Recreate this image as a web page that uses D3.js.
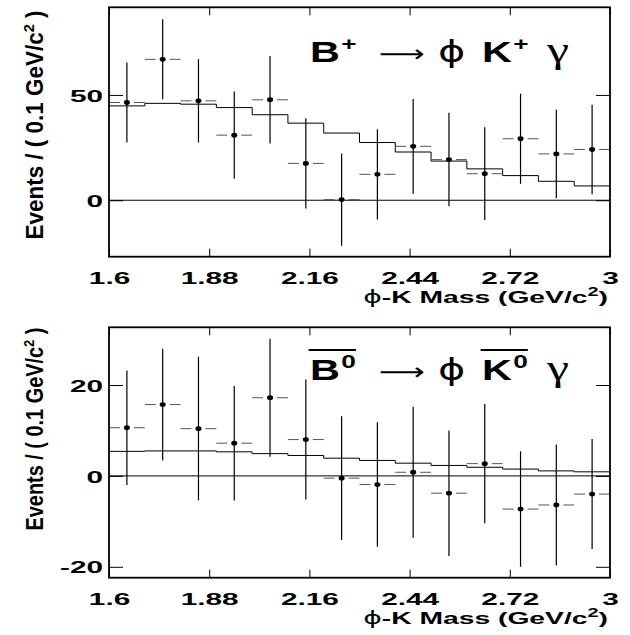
<!DOCTYPE html>
<html>
<head>
<meta charset="utf-8">
<script src="https://cdn.jsdelivr.net/npm/d3@7"></script>
<style>
  body { margin: 0; background: #fff; }
  svg { display: block; }
  text { font-family: "Liberation Sans", Arial, sans-serif; }
</style>
</head>
<body>
<svg id="chart" width="630" height="635"></svg>
<script>
// bin centres of the phi-K mass histogram (GeV/c^2)
const binCenters = [1.65, 1.75, 1.85, 1.95, 2.05, 2.15, 2.25, 2.35, 2.45, 2.55, 2.65, 2.75, 2.85, 2.95];
const binWidth = 0.1;
const xTicks = [1.6, 1.88, 2.16, 2.44, 2.72, 3];

// B+ -> phi K+ gamma
const chargedCounts = [46.4, 66.9, 47.2, 30.9, 47.7, 17.5, 0.3, 12.3, 25.6, 19.3, 12.6, 29.2, 22.0, 24.1];
const chargedErrors = [19.0, 19.0, 19.8, 20.7, 20.8, 21.4, 21.9, 21.4, 22.5, 22.2, 22.0, 21.4, 21.0, 21.2];
const chargedFit = [44.8, 46.0, 45.6, 44.0, 40.6, 36.6, 31.9, 27.4, 22.9, 18.6, 14.9, 11.7, 9.0, 6.8];
const chargedYTicks = [0, 50];

// B0bar -> phi K0bar gamma
const neutralCounts = [10.6, 15.7, 10.4, 7.2, 17.2, 8.0, -0.5, -1.9, 0.8, -3.8, 2.7, -7.3, -6.4, -4.0];
const neutralErrors = [12.6, 12.3, 15.8, 12.6, 13.0, 13.2, 13.6, 13.7, 14.4, 13.8, 13.1, 12.7, 13.3, 12.1];
const neutralFit = [5.4, 5.5, 5.5, 5.3, 4.9, 4.5, 3.9, 3.4, 2.8, 2.3, 1.9, 1.5, 1.1, 0.9];
const neutralYTicks = [-20, 0, 20];

const svg = d3.select('#chart');
const left = 109, right = 610;
const stretch = 1.75; // the original lettering is wide

const x = d3.scaleLinear().domain([1.6, 3]).range([left, right]);

function widen(sel, f) {
    sel.each(function () {
        const w = this.getComputedTextLength();
        d3.select(this).attr('textLength', w * f).attr('lengthAdjust', 'spacingAndGlyphs');
    });
}

function drawPanel(opt) {
    const y = d3.scaleLinear().domain(opt.yDomain).range([opt.bottom, opt.top]);
    const g = svg.append('g');
    const rows = binCenters.map((c, i) => ({ c, v: opt.counts[i], e: opt.errors[i], f: opt.fit[i] }));

    // zero line
    g.append('line')
        .attr('x1', left).attr('x2', right)
        .attr('y1', y(0)).attr('y2', y(0))
        .attr('stroke', '#000').attr('stroke-width', 1);

    // fitted background, drawn as steps
    const step = d3.line()
        .x(d => x(d[0])).y(d => y(d[1]))
        .curve(d3.curveStepAfter);
    const stepPts = rows.map(d => [d.c - binWidth / 2, d.f]);
    stepPts.push([3, rows[rows.length - 1].f]);
    g.append('path')
        .attr('d', step(stepPts))
        .attr('fill', 'none').attr('stroke', '#000').attr('stroke-width', 1);

    // data points: horizontal bars with a gap round the dot, vertical errors
    const pt = g.selectAll('.pt').data(rows).enter().append('g');
    const gap = 7;
    pt.append('line')
        .attr('x1', d => x(d.c - binWidth / 2)).attr('x2', d => x(d.c) - gap)
        .attr('y1', d => y(d.v)).attr('y2', d => y(d.v))
        .attr('stroke', '#555').attr('stroke-width', 1);
    pt.append('line')
        .attr('x1', d => x(d.c) + gap).attr('x2', d => x(d.c + binWidth / 2))
        .attr('y1', d => y(d.v)).attr('y2', d => y(d.v))
        .attr('stroke', '#555').attr('stroke-width', 1);
    pt.append('line')
        .attr('x1', d => x(d.c)).attr('x2', d => x(d.c))
        .attr('y1', d => y(d.v - d.e)).attr('y2', d => y(d.v + d.e))
        .attr('stroke', '#000').attr('stroke-width', 1.2);
    pt.append('ellipse')
        .attr('cx', d => x(d.c)).attr('cy', d => y(d.v))
        .attr('rx', 3).attr('ry', 2.4)
        .attr('fill', '#000');

    // axes, ticks pointing inwards
    g.append('g')
        .attr('transform', `translate(0,${opt.bottom})`)
        .call(d3.axisBottom(x).tickValues(xTicks).tickSize(-8).tickPadding(15).tickFormat(d => String(d)));
    g.append('g')
        .attr('transform', `translate(0,${opt.top})`)
        .call(d3.axisTop(x).tickValues(xTicks).tickSize(-8).tickFormat(''));
    const yl = g.append('g')
        .attr('transform', `translate(${left},0)`)
        .call(d3.axisLeft(y).tickValues(opt.yTicks).tickSize(-14).tickPadding(6).tickFormat(d => String(d)));
    g.append('g')
        .attr('transform', `translate(${right},0)`)
        .call(d3.axisRight(y).tickValues(opt.yTicks).tickSize(-14).tickFormat(''));
    g.selectAll('.domain').remove();
    g.selectAll('.tick line').attr('stroke', '#000').attr('stroke-width', 1);
    const tickText = g.selectAll('.tick text')
        .attr('fill', '#000')
        .style('font-size', '17px').style('font-weight', 'bold')
        .style('font-family', '"Liberation Sans", Arial, sans-serif');
    yl.selectAll('.tick text').attr('dy', '0.36em');
    widen(tickText, stretch);

    // frame
    g.append('rect')
        .attr('x', left).attr('y', opt.top)
        .attr('width', right - left).attr('height', opt.bottom - opt.top)
        .attr('fill', 'none').attr('stroke', '#000').attr('stroke-width', 1.8);

    // y title
    const yt = g.append('text')
        .attr('transform', `translate(${opt.yTitleX},${opt.yTitleY}) rotate(-90)`)
        .attr('text-anchor', 'middle')
        .attr('textLength', opt.yTitleLen).attr('lengthAdjust', 'spacingAndGlyphs')
        .style('font-family', '"Liberation Sans Narrow", "Liberation Sans", sans-serif')
        .style('font-weight', 'bold')
        .style('font-size', '23px');
    yt.append('tspan').text('Events / ( 0.1 GeV/c');
    yt.append('tspan').attr('dy', -9).style('font-size', '15px').text('2');
    yt.append('tspan').attr('dy', 9).text(' )');

    // x title, stretched to the original width
    const xg = g.append('g');
    const xt = xg.append('text')
        .attr('x', 0).attr('y', 0)
        .attr('text-anchor', 'end')
        .style('font-size', '17px').style('font-weight', 'bold');
    xt.append('tspan').style('font-weight', 'normal').style('font-family', '"DejaVu Sans", sans-serif').text('\u03d5');
    xt.append('tspan').text('-K Mass (GeV/c');
    xt.append('tspan').attr('dy', -7).style('font-size', '12px').text('2');
    xt.append('tspan').attr('dy', 7).text(')');
    const xw = xt.node().getBBox().width;
    xg.attr('transform', `translate(608,${opt.bottom + 46}) scale(${245 / xw},1)`);

    return y;
}

drawPanel({
    top: 7.3, bottom: 256.7, yDomain: [-26.8, 91.6],
    counts: chargedCounts, errors: chargedErrors, fit: chargedFit, yTicks: chargedYTicks,
    yTitleX: 43, yTitleY: 125, yTitleLen: 229
});
drawPanel({
    top: 327.3, bottom: 577.7, yDomain: [-22.4, 32.7],
    counts: neutralCounts, errors: neutralErrors, fit: neutralFit, yTicks: neutralYTicks,
    yTitleX: 43, yTitleY: 429, yTitleLen: 203
});

// decay titles, laid out in unscaled space then widened
const titleScale = 1.38;
function decayTitle(yBase, charge, bars) {
    const g = svg.append('g').attr('transform', `translate(310,${yBase}) scale(${titleScale},1)`);
    const t = g.append('text').attr('x', 0).attr('y', 0).style('font-size', '30px');
    const px = v => (v - 310) / titleScale;
    t.append('tspan').attr('x', 0).style('font-weight', 'bold').text('B');
    t.append('tspan').attr('dx', 1).attr('dy', -12).style('font-size', '19px').style('font-weight', 'bold').text(charge);
    t.append('tspan').attr('x', px(379)).attr('dy', 12)
        .attr('textLength', 46 / titleScale).attr('lengthAdjust', 'spacingAndGlyphs')
        .style('font-family', '"DejaVu Sans", sans-serif').style('font-size', '24px').text('\u27f6');
    t.append('tspan').attr('x', px(438)).style('font-family', '"DejaVu Sans", sans-serif').style('font-size', '30px').text('\u03d5');
    t.append('tspan').attr('x', px(482)).style('font-weight', 'bold').text('K');
    t.append('tspan').attr('dx', 1).attr('dy', -12).style('font-size', '19px').style('font-weight', 'bold').text(charge);
    t.append('tspan').attr('x', px(547)).attr('dy', 12).style('font-family', '"Liberation Serif", serif').style('font-size', '36px').text('\u03b3');
    if (bars) {
        // overlines on the anti-particles
        [[0, 1], [4, 5]].forEach(p => {
            const a = t.node().getExtentOfChar(p[0]);
            const b = t.node().getExtentOfChar(p[1]);
            g.append('line')
                .attr('x1', a.x - 1).attr('x2', b.x + b.width)
                .attr('y1', -30).attr('y2', -30)
                .attr('stroke', '#000').attr('stroke-width', 1.8);
        });
    }
}
decayTitle(62, '+', false);
decayTitle(380, '0', true);
</script>
</body>
</html>
